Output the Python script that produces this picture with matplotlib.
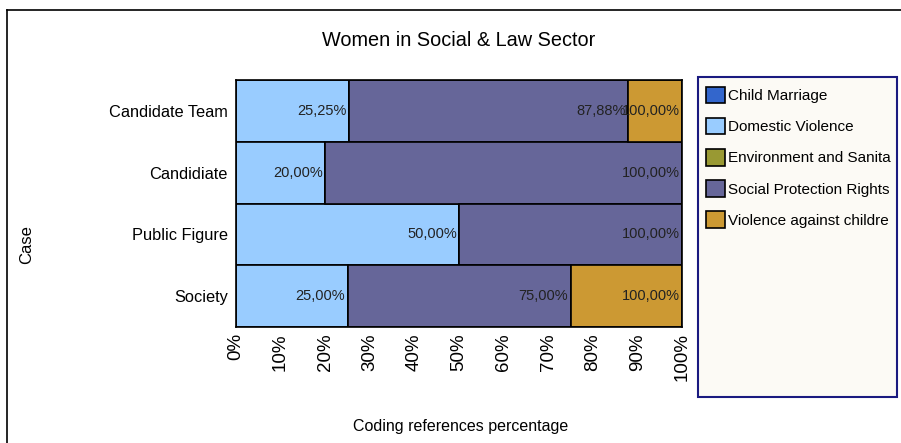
import numpy as np
import matplotlib
matplotlib.use("Agg")
import matplotlib.pyplot as plt
from matplotlib.patches import Patch, Rectangle
from matplotlib.lines import Line2D

plt.rcParams['font.family'] = ['Liberation Sans', 'DejaVu Sans']

cases = ["Candidate Team", "Candidiate", "Public Figure", "Society"]
themes = ["Child Marriage", "Domestic Violence", "Environment and Sanita",
          "Social Protection Rights", "Violence against childre"]
theme_colors = ["#3366CC", "#99CCFF", "#999933", "#666699", "#CC9933"]

# share of coding references per theme (percent), one row per case
shares = {
    "Child Marriage":           [0.00, 0.00, 0.00, 0.00],
    "Domestic Violence":        [25.25, 20.00, 50.00, 25.00],
    "Environment and Sanita":   [0.00, 0.00, 0.00, 0.00],
    "Social Protection Rights": [62.63, 80.00, 50.00, 50.00],
    "Violence against childre": [12.12, 0.00, 0.00, 25.00],
}
xticks = [0, 10, 20, 30, 40, 50, 60, 70, 80, 90, 100]

fig = plt.figure(figsize=(9.01, 4.43), dpi=100)
W, H = 901, 443
ax = fig.add_axes([236 / W, 1 - 327 / H, (682 - 236) / W, (327 - 80) / H])

y = np.arange(len(cases))
left = np.zeros(len(cases))
for name, color in zip(themes, theme_colors):
    vals = np.array(shares[name])
    ax.barh(y, vals, left=left, height=1.0, color=color,
            edgecolor="black", linewidth=1.2)
    right = left + vals
    for yi, v, r in zip(y, vals, right):
        if v > 0:
            txt = f"{r:.2f}".replace(".", ",") + "%"
            ax.text(r - 0.5, yi, txt, ha="right", va="center",
                    fontsize=10.5, color="#222222")
    left = right

ax.set_xlim(0, 100)
ax.set_ylim(len(cases) - 0.5, -0.5)
ax.set_yticks(y)
ax.set_yticklabels(cases, fontsize=11.8)
ax.set_xticks(xticks)
ax.set_xticklabels([f"{t}%" for t in xticks], rotation=90, fontsize=13.5)
ax.tick_params(axis="x", length=0, pad=4.5)
ax.tick_params(axis="y", length=0, pad=6)
for s in ax.spines.values():
    s.set_linewidth(1.2)

fig.text(459 / W, 1 - 40 / H, "Women in Social & Law Sector",
         ha="center", va="center", fontsize=14.3)
fig.text(461 / W, 1 - 427 / H, "Coding references percentage",
         ha="center", va="center", fontsize=11.5)
fig.text(27 / W, 1 - 245 / H, "Case", ha="center", va="center",
         rotation=90, fontsize=12)

# outer frame lines (top and left)
fig.add_artist(Line2D([7 / W, 1], [1 - 10 / H, 1 - 10 / H],
                      transform=fig.transFigure, color="black", lw=1.2))
fig.add_artist(Line2D([7 / W, 7 / W], [0, 1 - 10 / H],
                      transform=fig.transFigure, color="black", lw=1.2))

# legend panel
fig.add_artist(Rectangle((698 / W, 1 - 397 / H), (897 - 698) / W, (397 - 77) / H,
                         transform=fig.transFigure, facecolor="#FCFAF5",
                         edgecolor="#1A1A80", linewidth=1.5))
handles = [Patch(facecolor=c, edgecolor="black", linewidth=1.2) for c in theme_colors]
fig.legend(handles, themes, loc="upper left",
           bbox_to_anchor=(701 / W, 1 - 82 / H), frameon=False, fontsize=11,
           handlelength=1.3, handleheight=1.3, handletextpad=0.2,
           labelspacing=0.95, borderpad=0.3, borderaxespad=0)

fig.savefig("out.png", dpi=100)
